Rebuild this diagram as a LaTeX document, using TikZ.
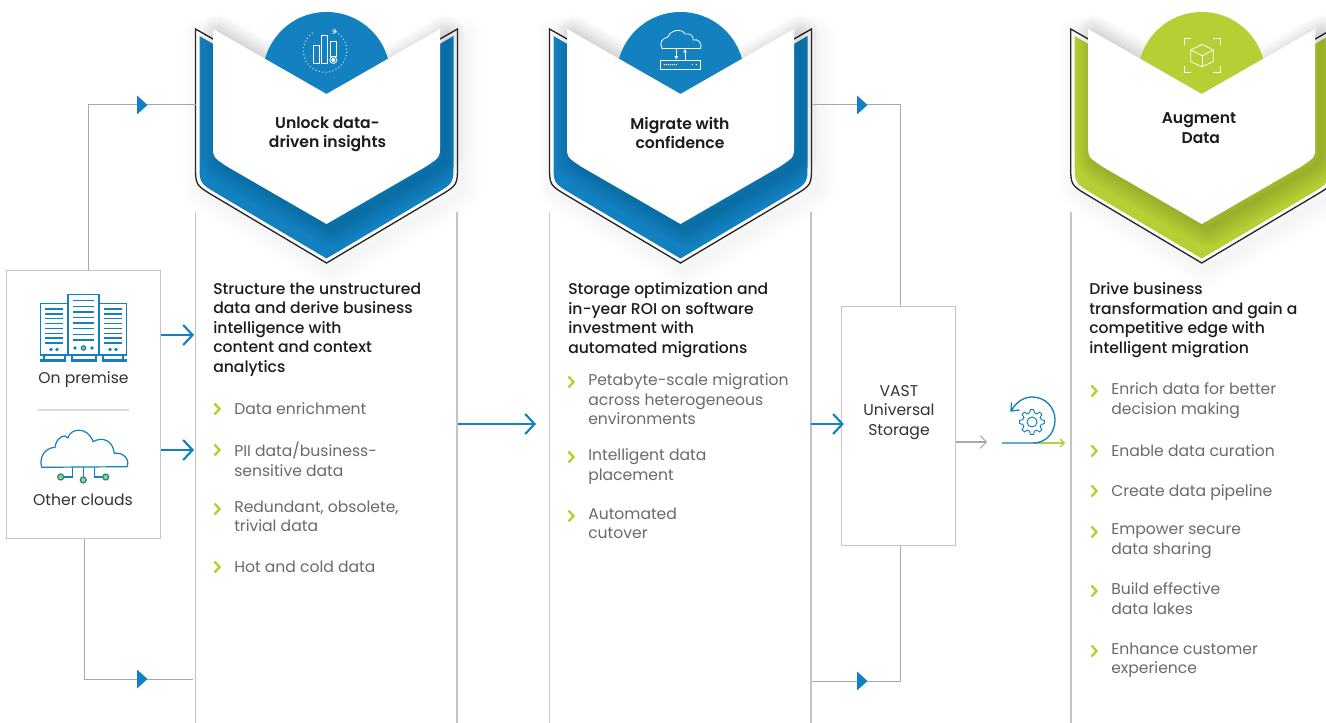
\documentclass[tikz,border=0pt]{standalone}
\usepackage{fontspec}
\setmainfont{Poppins}
\newfontfamily\semib{Poppins}[UprightFont=* SemiBold]
\newfontfamily\medi{Poppins}[UprightFont=* Medium]
\usetikzlibrary{arrows.meta}
\definecolor{vblue}{HTML}{1380C0}
\definecolor{vgreen}{HTML}{B4D034}
\definecolor{vline}{HTML}{C4C4C4}
\definecolor{vconn}{HTML}{A8A8A8}
\definecolor{vtext}{HTML}{6A6A6A}
\definecolor{vhead}{HTML}{1C1C1C}
\tikzset{
  x=0.75pt,y=-0.75pt,
  colline/.style={draw=vline,line width=0.9pt},
  conn/.style={draw=vconn,line width=0.75pt},
  bluearrow/.style={draw=vblue,line width=1.6pt,-{Straight Barb[length=7pt,width=15pt,line width=1.6pt]}},
  tri/.style={fill=vblue,draw=none},
  head/.style={anchor=north west,inner sep=0pt,align=left,text=vhead,font=\fontsize{11.7}{14.6}\medi,execute at begin node={\rule{0pt}{10pt}}},
  body/.style={anchor=north west,inner sep=0pt,align=left,text=vtext,font=\fontsize{11.7}{14.6}\selectfont,execute at begin node={\rule{0pt}{10pt}}},
  title/.style={anchor=north,inner sep=0pt,align=center,text=vhead,font=\fontsize{11.7}{14.4}\semib,execute at begin node={\rule{0pt}{10pt}}},
  plain/.style={anchor=center,inner sep=0pt,align=center,text=black!80,font=\fontsize{11.7}{14.6}\selectfont},
  chev/.style={draw=vgreen,line width=1.8pt,line join=miter},
  iconw/.style={draw=white,line width=0.6pt},
  icon/.style={draw=vblue,line width=0.9pt},
  seed/.style={fill=vgreen,draw=vblue,line width=0.9pt},
}
\newcommand\OuterP{(195.5,29) -- (195.5,165) .. controls (195.5,185) .. (213,195.5) -- (326.5,263) -- (440,195.5) .. controls (457.5,185) .. (457.5,165) -- (457.5,29) -- (326.5,104) -- cycle}
\newcommand\BodyP{(199.5,36) -- (199.5,163) .. controls (199.5,183) .. (216,193) -- (326.5,258.5) -- (437,193) .. controls (453.5,183) .. (453.5,163) -- (453.5,36) -- (326.5,110) -- cycle}
\newcommand\PanelP{(213,29) -- (213,147) .. controls (213,157) .. (227,166.5) -- (326.5,224) -- (426,166.5) .. controls (440,157) .. (440,147) -- (440,29) -- (326.5,94) -- cycle}
\newcommand\Shield[2]{%
  \begin{scope}[shift={(#1,0)}]
    \foreach \w in {4,8,...,40}{\path[draw=black,opacity=0.005,line width={\w*0.75pt},line join=round,shift={(6,6)}] \OuterP;}
    \path[fill=white,draw=black!85,line width=1pt,line join=miter] \OuterP;
    \path[fill=#2] \BodyP;
    \foreach \w in {4,8,...,36}{\path[draw=black,opacity=0.014,line width={\w*0.75pt},line join=round,shift={(6,4)}] \PanelP;}
    \path[fill=#2] (326.5,75.7) circle (63.7);
    \path[fill=white] \PanelP;
  \end{scope}}
\newcommand\Item[5]{%
  \draw[chev] (#2-19.5,#3-5.5) -- (#2-14.5,#3) -- (#2-19.5,#3+5.5);
  \node[body] (#1) at (#2,#3-8.3) {#4};}
\begin{document}
\begin{tikzpicture}
\clip (0,0) rectangle (1326,723);
\path[fill=white] (0,0) rectangle (1326,723);

% column lines
\foreach \x in {195.5,457,549.5,811,1071}{\draw[colline] (\x,212) -- (\x,723);}

% shields
\Shield{0}{vblue}
\Shield{354}{vblue}
\Shield{875.2}{vgreen}

% anchors on shields
\coordinate (s1w) at (195.5,105);
\coordinate (s1b) at (193,679);
\coordinate (s1a) at (194,335);
\coordinate (s1c) at (194,450);
\coordinate (col1e) at (458,424);
\coordinate (col2w) at (536,424);
\coordinate (col2e) at (811,424);
\coordinate (s2e) at (811.5,105);
\coordinate (s2b) at (811.5,681);
\coordinate (grayend) at (987,442);

% source box
\node[draw=vline,line width=1pt,fill=white,minimum width=115.5pt,minimum height=201pt,inner sep=0pt] (src) at (83.5,404.5) {};
\node[draw=vline,line width=1pt,fill=white,minimum width=85.5pt,minimum height=179.25pt,inner sep=0pt] (vast) at (898.5,426) {};

% connectors
\coordinate (srcup) at (88,270.5);
\coordinate (srcdn) at (84,538.5);
\coordinate (vup) at (900,306.5);
\coordinate (vdn) at (900,545.5);
\draw[conn] (srcup) |- (s1w);
\draw[conn] (srcdn) |- (s1b);
\draw[conn] (s2e) -| (vup);
\draw[conn] (s2b) -| (vdn);
\foreach \x/\y in {137/105,137/679,857/105,857/681}{\fill[tri] (\x,\y-9.5) -- (\x+10.5,\y) -- (\x,\y+9.5) -- cycle;}
\draw[bluearrow] (src.east |- s1a) -- (s1a);
\draw[bluearrow] (src.east |- s1c) -- (s1c);
\draw[bluearrow] (col1e) -- (col2w);
\draw[bluearrow] (col2e) -- (vast.west |- col2e) -- ++(3,0);
\draw[draw=vconn,line width=0.8pt,-{Straight Barb[length=4.5pt,width=9.5pt,line width=0.8pt]}] (vast.east |- grayend) -- (grayend);

% source box labels
\node[plain] (onprem) at (83.5,380) {On premise};
\node[plain] (clouds) at (83,500) {Other clouds};
\draw[draw=black!14,line width=1pt] (38,410) -- (129,410);

% server icon
\draw[icon] (40.5,303.5) rectangle (67.5,355);
\draw[icon] (68,294.5) rectangle (99,355);
\draw[icon] (99.5,303.5) rectangle (126.5,355);
\foreach \i in {0,...,7}{
  \draw[draw=vblue,line width=1.1pt] (45,309+\i*4.85) -- (63,309+\i*4.85);
  \draw[draw=vblue,line width=1.1pt] (73,300.7+\i*5.6) -- (94,300.7+\i*5.6);
  \draw[draw=vblue,line width=1.1pt] (104,309+\i*4.85) -- (122,309+\i*4.85);
}
\foreach \x/\y in {51/349.5,57/349.5,75/348,92/348,110/349.5,116/349.5}{\fill[vblue] (\x,\y) circle (1.8);}
\draw[seed] (83.5,348) circle (2.2);
\foreach \x in {44,65,72,96,103,123}{\draw[icon] (\x,355) -- (\x,360);}
\foreach \a/\b in {40/66,71/97,102/127}{\draw[draw=vblue,line width=1.6pt] (\a,360.5) -- (\b,360.5);}

% cloud icon (source box)
\draw[icon,line join=round] (41.7,467.3) .. controls (39,458) and (44,448) .. (55,447.3)
  .. controls (56,438) and (65,433) .. (68,438)
  .. controls (70,428) and (88,426) .. (93,441.7)
  .. controls (103,436) and (113,441) .. (114.3,453.3)
  .. controls (124,452) and (130,460) .. (127,466.7) -- cycle;
\draw[icon] (72.7,467.3) -- (72.7,477) -- (60.7,477);
\draw[icon] (83.3,467.3) -- (83.3,480);
\draw[icon] (94.3,467.3) -- (94.3,477) -- (105.7,477);
\draw[seed] (60.7,477) circle (3);
\draw[seed] (83.3,480) circle (3);
\draw[seed] (105.7,477) circle (3);

% shield titles
\node[title] (t1) at (327.5,116.7) {Unlock data-\\driven insights};
\node[title] (t2) at (680,116.7) {Migrate with\\confidence};
\node[title] (t3) at (1199,112.7) {Augment\\\ Data};

% chart icon
\draw[iconw,dotted,line width=0.8pt] (325,50.7) ++(-70:21.7) arc (-70:240:21.7);
\draw[iconw,-{Straight Barb[length=2.5pt,width=4pt,line width=0.5pt]},line width=0.5pt] (333,31) -- (337,32);
\draw[iconw] (313.3,45) rectangle (319.3,63.3);
\draw[iconw] (321.3,35) rectangle (327.7,63.3);
\draw[iconw] (330.3,41.7) rectangle (336.7,56);
\draw[iconw] (333.3,60) circle (3.5);
\fill[white] (333.3,60) circle (2);

% cloud / server icon
\begin{scope}
\draw[iconw,line join=round] (662,48.5) .. controls (659,43) and (662,38) .. (668,37)
  .. controls (670,30) and (682,28) .. (685,34)
  .. controls (690,33) and (694,36) .. (693,40)
  .. controls (698,38) and (703,44) .. (700.5,48.5) -- cycle;
\draw[iconw] (660.7,60) rectangle (700.7,69.3);
\draw[iconw,-{Latex[length=2.5pt,width=3pt]}] (676.3,48.5) -- (676.3,59.5);
\draw[iconw,-{Latex[length=2.5pt,width=3pt]}] (685,60) -- (685,49);
\foreach \x in {664.3,666.3,668.3,670.3,672.3,674.3,676.3,692.3,696.3}{\fill[white] (\x,64.7) circle (0.7);}
\end{scope}

% cube icon
\draw[iconw] (1184,45.3) -- (1184,38.3) -- (1191,38.3);
\draw[iconw] (1213,38.3) -- (1220,38.3) -- (1220,45.3);
\draw[iconw] (1184,65.7) -- (1184,72.7) -- (1191,72.7);
\draw[iconw] (1213,72.7) -- (1220,72.7) -- (1220,65.7);
\draw[iconw,line join=round] (1202,44.3) -- (1213.3,50) -- (1213.3,61.7) -- (1202,66.7) -- (1190.7,61.7) -- (1190.7,50) -- cycle;
\draw[iconw] (1190.7,50) -- (1202,55.7) -- (1213.3,50);
\draw[iconw] (1202,55.7) -- (1202,66.7);

% column 1 text
\node[head] (h1) at (213,282.7) {Structure the unstructured\\data and derive business\\intelligence with\\content and context\\analytics};
\Item{a1}{234}{409}{Data enrichment}{}
\Item{a2}{234}{450}{PII data/business-\\sensitive data}{}
\Item{a3}{234}{509}{Redundant, obsolete,\\trivial data}{}
\Item{a4}{234}{567}{Hot and cold data}{}

% column 2 text
\node[head] (h2) at (568,282.7) {Storage optimization and\\in-year ROI on software\\investment with\\automated migrations};
\Item{b1}{588}{382}{Petabyte-scale migration\\across heterogeneous\\environments}{}
\Item{b2}{588}{457}{Intelligent data\\placement}{}
\Item{b3}{588}{516}{Automated\\cutover}{}

% VAST label
\node[plain] (vastl) at (899,412.5) {VAST\\Universal\\Storage};

% loop icon
\coordinate (loopa) at (1002,443);
\coordinate (loopm) at (1033,443);
\coordinate (loopb) at (1065,443);
\draw[draw=vgreen,line width=1pt,-{Straight Barb[length=3pt,width=6pt,line width=1pt]}] (loopm) -- (loopb);
\draw[draw=vblue,line width=1pt] (loopa) -- (loopm) .. controls (1046,443) and (1055,433) .. (1055,420)
  .. controls (1055,407) and (1045,397) .. (1032,397) .. controls (1024,397) and (1016,402) .. (1011.5,410.5);
\draw[draw=vblue,line width=1pt] (1011.5,402.5) -- (1011,411) -- (1019.5,410);
\begin{scope}[shift={(1032,422)}]
\draw[icon,line width=0.7pt,line join=round] (-14:9.5) \foreach \a in {0,45,...,315}{ -- ({\a-14}:9.5) -- ({\a-8}:12.5) -- ({\a+8}:12.5) -- ({\a+14}:9.5)} -- cycle;
\draw[icon,line width=0.7pt] (0,0) circle (5);
\end{scope}

% column 3 text
\node[head] (h3) at (1089,282.7) {Drive business\\transformation and gain a\\competitive edge with\\intelligent migration};
\Item{c1}{1111}{391}{Enrich data for better\\decision making}{}
\Item{c2}{1111}{451}{Enable data curation}{}
\Item{c3}{1111}{491}{Create data pipeline}{}
\Item{c4}{1111}{532}{Empower secure\\data sharing}{}
\Item{c5}{1111}{591}{Build effective\\data lakes}{}
\Item{c6}{1111}{651}{Enhance customer\\experience}{}
\end{tikzpicture}
\end{document}
